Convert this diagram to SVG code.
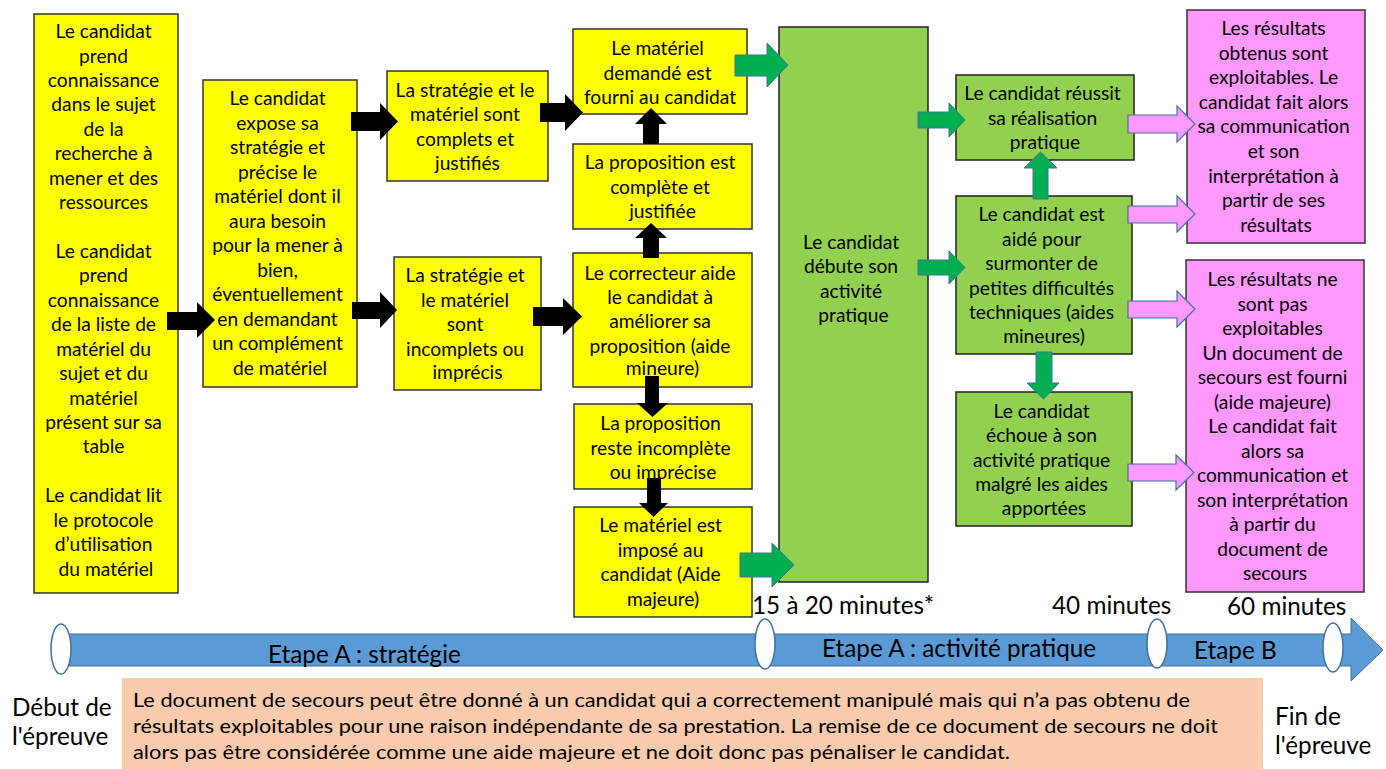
<svg xmlns="http://www.w3.org/2000/svg" width="1386" height="769" viewBox="0 0 1386 769">
<style>
text{font-family:Lato,"Liberation Sans",sans-serif;fill:#000}
.bt{font-size:19.2px;text-anchor:middle}
.tl{font-size:24.3px}
.nt{font-size:20px}
.y{fill:#FFFF00;stroke:#333;stroke-width:1.5}
.g{fill:#92D050;stroke:#222;stroke-width:1.5}
.p{fill:#FF99FF;stroke:#333;stroke-width:1.5}
.ab{fill:#000}
.ag{fill:#00B050;stroke:#41719C;stroke-width:1}
.ap{fill:#FF99FF;stroke:#41719C;stroke-width:1.2}
</style>
<rect width="1386" height="769" fill="#fff"/>

<g id="timeline">
<polygon points="62,634 1351,634 1351,618 1383,650 1351,681 1351,666 62,666" fill="#5B9BD5" stroke="#41719C" stroke-width="1"/>
<ellipse cx="61" cy="649" rx="10" ry="25" fill="#fff" stroke="#41719C" stroke-width="1.5"/>
<ellipse cx="765" cy="644" rx="10" ry="25" fill="#fff" stroke="#41719C" stroke-width="1.5"/>
<ellipse cx="1157" cy="643.5" rx="10" ry="24.5" fill="#fff" stroke="#41719C" stroke-width="1.5"/>
<ellipse cx="1333" cy="647.5" rx="10" ry="24.5" fill="#fff" stroke="#41719C" stroke-width="1.5"/>
<text class="tl" x="268" y="663">Etape A : stratégie</text>
<text class="tl" x="822" y="657">Etape A : activité pratique</text>
<text class="tl" x="1194" y="659">Etape B</text>
<text class="tl" x="752" y="614">15 à 20 minutes*</text>
<text class="tl" x="1052" y="614">40 minutes</text>
<text class="tl" x="1227" y="615">60 minutes</text>
<text class="tl" x="12" y="716">Début de</text>
<text class="tl" x="12" y="745">l'épreuve</text>
<text class="tl" x="1275" y="725">Fin de</text>
<text class="tl" x="1275" y="754">l'épreuve</text>
</g>

<g id="note">
<rect x="122" y="678" width="1141" height="91" fill="#F8CBAD"/>
<text class="nt" x="133" y="707" textLength="1057" lengthAdjust="spacingAndGlyphs">Le document de secours peut être donné à un candidat qui a correctement manipulé mais qui n’a pas obtenu de</text>
<text class="nt" x="133" y="733" textLength="1085" lengthAdjust="spacingAndGlyphs">résultats exploitables pour une raison indépendante de sa prestation. La remise de ce document de secours ne doit</text>
<text class="nt" x="133" y="759" textLength="877" lengthAdjust="spacingAndGlyphs">alors pas être considérée comme une aide majeure et ne doit donc pas pénaliser le candidat.</text>
</g>

<g id="n1">
<rect class="y" x="34" y="14" width="144" height="579"/>
<text class="bt">
<tspan x="106" y="38">Le candidat</tspan>
<tspan x="106" y="62.5">prend</tspan>
<tspan x="106" y="87">connaissance</tspan>
<tspan x="106" y="111">dans le sujet</tspan>
<tspan x="106" y="136">de la</tspan>
<tspan x="106" y="160">recherche à</tspan>
<tspan x="106" y="185">mener et des</tspan>
<tspan x="106" y="209">ressources</tspan>
<tspan x="106" y="258">Le candidat</tspan>
<tspan x="106" y="282">prend</tspan>
<tspan x="106" y="307">connaissance</tspan>
<tspan x="106" y="331">de la liste de</tspan>
<tspan x="106" y="356">matériel du</tspan>
<tspan x="106" y="380">sujet et du</tspan>
<tspan x="106" y="405">matériel</tspan>
<tspan x="106" y="429">présent sur sa</tspan>
<tspan x="106" y="453">table</tspan>
<tspan x="106" y="502">Le candidat lit</tspan>
<tspan x="106" y="527">le protocole</tspan>
<tspan x="106" y="551">d’utilisation</tspan>
<tspan x="106" y="576">du matériel</tspan>
</text>
</g>

<g id="n2">
<rect class="y" x="203" y="80" width="154" height="307"/>
<text class="bt">
<tspan x="280" y="105">Le candidat</tspan>
<tspan x="280" y="129.5">expose sa</tspan>
<tspan x="280" y="154">stratégie et</tspan>
<tspan x="280" y="178.5">précise le</tspan>
<tspan x="280" y="203">matériel dont il</tspan>
<tspan x="280" y="227.5">aura besoin</tspan>
<tspan x="280" y="252">pour la mener à</tspan>
<tspan x="280" y="276.5">bien,</tspan>
<tspan x="280" y="301">éventuellement</tspan>
<tspan x="280" y="325.5">en demandant</tspan>
<tspan x="280" y="350">un complément</tspan>
<tspan x="280" y="374.5">de matériel</tspan>
</text>
</g>

<g id="n3">
<rect class="y" x="387" y="71" width="161" height="110"/>
<text class="bt">
<tspan x="467.5" y="97">La stratégie et le</tspan>
<tspan x="467.5" y="121">matériel sont</tspan>
<tspan x="467.5" y="146">complets et</tspan>
<tspan x="467.5" y="170">justifiés</tspan>
</text>
</g>

<g id="n4">
<rect class="y" x="394" y="257" width="147" height="133"/>
<text class="bt">
<tspan x="467.5" y="282">La stratégie et</tspan>
<tspan x="467.5" y="306.5">le matériel</tspan>
<tspan x="467.5" y="331">sont</tspan>
<tspan x="467.5" y="355.5">incomplets ou</tspan>
<tspan x="467.5" y="379">imprécis</tspan>
</text>
</g>

<g id="n5">
<rect class="y" x="573" y="29" width="174" height="85"/>
<text class="bt">
<tspan x="660" y="55">Le matériel</tspan>
<tspan x="660" y="79.5">demandé est</tspan>
<tspan x="660" y="104">fourni au candidat</tspan>
</text>
</g>

<g id="n6">
<rect class="y" x="573" y="144" width="179" height="85"/>
<text class="bt">
<tspan x="662.5" y="169">La proposition est</tspan>
<tspan x="662.5" y="193.5">complète et</tspan>
<tspan x="662.5" y="218">justifiée</tspan>
</text>
</g>

<g id="n7">
<rect class="y" x="573" y="253" width="179" height="134"/>
<text class="bt">
<tspan x="662.5" y="280">Le correcteur aide</tspan>
<tspan x="662.5" y="304">le candidat à</tspan>
<tspan x="662.5" y="328">améliorer sa</tspan>
<tspan x="662.5" y="352.5">proposition (aide</tspan>
<tspan x="662.5" y="375">mineure)</tspan>
</text>
</g>

<g id="n8">
<rect class="y" x="574" y="404" width="178" height="85"/>
<text class="bt">
<tspan x="663" y="430">La proposition</tspan>
<tspan x="663" y="455">reste incomplète</tspan>
<tspan x="663" y="479">ou imprécise</tspan>
</text>
</g>

<g id="n9">
<rect class="y" x="574" y="507" width="178" height="110"/>
<text class="bt">
<tspan x="663" y="532">Le matériel est</tspan>
<tspan x="663" y="557">imposé au</tspan>
<tspan x="663" y="581">candidat (Aide</tspan>
<tspan x="663" y="606">majeure)</tspan>
</text>
</g>

<g id="n10">
<rect class="g" x="779" y="27" width="149" height="555"/>
<text class="bt">
<tspan x="853.5" y="249">Le candidat</tspan>
<tspan x="853.5" y="273">débute son</tspan>
<tspan x="853.5" y="298">activité</tspan>
<tspan x="853.5" y="322">pratique</tspan>
</text>
</g>

<g id="n11">
<rect class="g" x="956" y="75" width="178" height="85"/>
<text class="bt">
<tspan x="1045" y="100">Le candidat réussit</tspan>
<tspan x="1045" y="125">sa réalisation</tspan>
<tspan x="1045" y="149">pratique</tspan>
</text>
</g>

<g id="n12">
<rect class="g" x="956" y="196" width="176" height="158"/>
<text class="bt">
<tspan x="1044" y="221">Le candidat est</tspan>
<tspan x="1044" y="245.5">aidé pour</tspan>
<tspan x="1044" y="270">surmonter de</tspan>
<tspan x="1044" y="294.5">petites difficultés</tspan>
<tspan x="1044" y="319">techniques (aides</tspan>
<tspan x="1044" y="343">mineures)</tspan>
</text>
</g>

<g id="n13">
<rect class="g" x="956" y="392" width="176" height="134"/>
<text class="bt">
<tspan x="1044" y="418">Le candidat</tspan>
<tspan x="1044" y="442">échoue à son</tspan>
<tspan x="1044" y="467">activité pratique</tspan>
<tspan x="1044" y="491">malgré les aides</tspan>
<tspan x="1044" y="515">apportées</tspan>
</text>
</g>

<g id="n14">
<rect class="p" x="1187" y="10" width="178" height="233"/>
<text class="bt">
<tspan x="1276" y="35">Les résultats</tspan>
<tspan x="1276" y="59.6">obtenus sont</tspan>
<tspan x="1276" y="84.2">exploitables. Le</tspan>
<tspan x="1276" y="108.8">candidat fait alors</tspan>
<tspan x="1276" y="133.4">sa communication</tspan>
<tspan x="1276" y="158">et son</tspan>
<tspan x="1276" y="182.6">interprétation à</tspan>
<tspan x="1276" y="207.2">partir de ses</tspan>
<tspan x="1276" y="231.8">résultats</tspan>
</text>
</g>

<g id="n15">
<rect class="p" x="1186" y="260" width="178" height="332"/>
<text class="bt">
<tspan x="1275" y="286">Les résultats ne</tspan>
<tspan x="1275" y="310.5">sont pas</tspan>
<tspan x="1275" y="335">exploitables</tspan>
<tspan x="1275" y="359.5">Un document de</tspan>
<tspan x="1275" y="384">secours est fourni</tspan>
<tspan x="1275" y="408.5">(aide majeure)</tspan>
<tspan x="1275" y="433">Le candidat fait</tspan>
<tspan x="1275" y="457.5">alors sa</tspan>
<tspan x="1275" y="482">communication et</tspan>
<tspan x="1275" y="506.5">son interprétation</tspan>
<tspan x="1275" y="531">à partir du</tspan>
<tspan x="1275" y="555.5">document de</tspan>
<tspan x="1275" y="580">secours</tspan>
</text>
</g>

<g id="connectors">
<polygon class="ab" points="167,312 197,312 197,302 215,320 197,338 197,330 167,330"/>
<polygon class="ab" points="351,112 380,112 380,103 398,121.5 380,140 380,131 351,131"/>
<polygon class="ab" points="352,302 380,302 380,292 397,310 380,328 380,319 352,319"/>
<polygon class="ab" points="540,103 565,103 565,94 583,112.5 565,131 565,122 540,122"/>
<polygon class="ab" points="533,307 563,307 563,298 582,316.5 563,335 563,326 533,326"/>
<polygon class="ab" points="643,144 643,124 635,124 651,108 667,124 659,124 659,144"/>
<polygon class="ab" points="643,258 643,238 635,238 651,223 667,238 659,238 659,258"/>
<polygon class="ab" points="645,376 659,376 659,403 668,403 652.5,417 637,403 645,403"/>
<polygon class="ab" points="647,478 661,478 661,503 668,503 653.5,517 639,503 647,503"/>
<polygon class="ag" points="735,55 767,55 767,43 788,65 767,87 767,76 735,76"/>
<polygon class="ag" points="740,553 772,553 772,543 794,565 772,587 772,577 740,577"/>
<polygon class="ag" points="918,112 949,112 949,103 965,120 949,137 949,128 918,128"/>
<polygon class="ag" points="918,260 949,260 949,251 965,267.5 949,284 949,275 918,275"/>
<polygon class="ag" points="1033,199 1033,168 1024,168 1040.5,152 1057,168 1048,168 1048,199"/>
<polygon class="ag" points="1036,352 1052,352 1052,383 1059,383 1043.5,399 1027,383 1036,383"/>
<polygon class="ap" points="1128,115 1177,115 1177,106 1195,124 1177,142 1177,133 1128,133"/>
<polygon class="ap" points="1128,206 1177,206 1177,196 1195,214 1177,232 1177,223 1128,223"/>
<polygon class="ap" points="1128,301 1177,301 1177,291 1195,309 1177,327 1177,318 1128,318"/>
<polygon class="ap" points="1128,464 1176,464 1176,455 1194,472.5 1176,490 1176,481 1128,481"/>
</g>
</svg>
